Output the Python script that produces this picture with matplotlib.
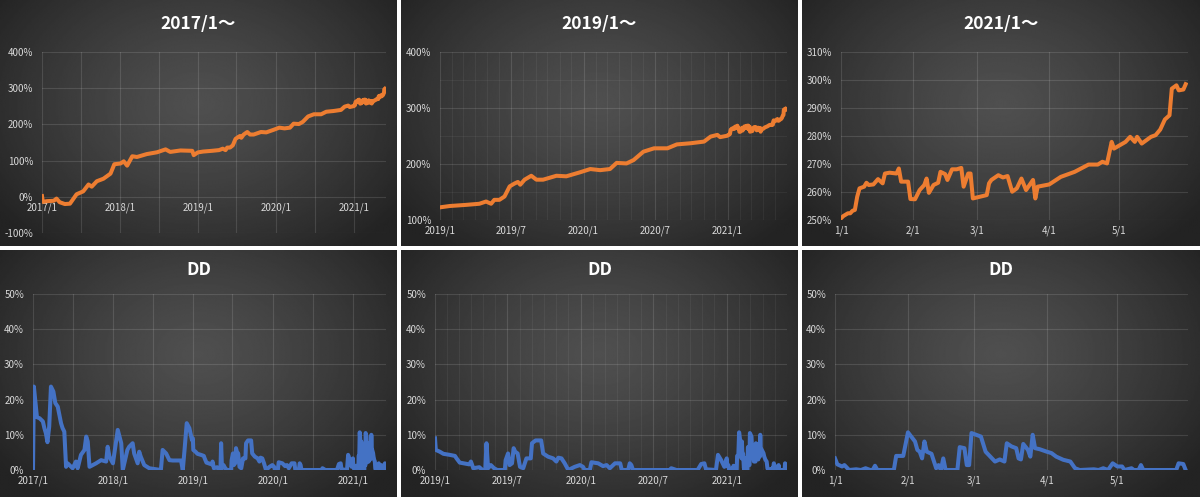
import matplotlib
matplotlib.use("Agg")
import matplotlib.pyplot as plt
import matplotlib.dates as mdates
from matplotlib.ticker import MultipleLocator, FuncFormatter
import numpy as np
import pandas as pd

plt.rcParams['font.family'] = ['Noto Sans CJK JP', 'DejaVu Sans']

# cumulative return (%)
ret_dates = [
    '2017-01-01', '2017-01-05', '2017-01-24', '2017-02-25', '2017-03-10', '2017-03-25',
    '2017-04-18', '2017-05-12', '2017-06-12', '2017-07-13', '2017-08-07', '2017-08-22',
    '2017-09-15', '2017-10-16', '2017-11-18', '2017-12-06', '2018-01-04', '2018-01-19',
    '2018-02-04', '2018-02-28', '2018-03-22', '2018-05-07', '2018-06-24', '2018-08-03',
    '2018-08-25', '2018-10-12', '2018-12-06', '2018-12-13',
    '2019-01-01', '2019-01-26', '2019-03-08', '2019-04-11', '2019-04-28', '2019-05-11',
    '2019-05-19', '2019-06-01', '2019-06-14', '2019-06-27', '2019-07-09', '2019-07-18',
    '2019-07-24', '2019-08-04', '2019-08-21', '2019-09-03', '2019-09-20', '2019-10-24',
    '2019-11-18', '2019-12-22', '2020-01-18', '2020-02-12', '2020-03-08', '2020-03-25',
    '2020-04-19', '2020-05-07', '2020-06-01', '2020-06-28', '2020-08-01', '2020-08-25',
    '2020-09-28', '2020-11-02', '2020-11-19', '2020-12-06', '2020-12-13',
    '2021-01-01', '2021-01-02', '2021-01-04', '2021-01-05', '2021-01-06', '2021-01-07',
    '2021-01-08', '2021-01-09', '2021-01-11', '2021-01-12', '2021-01-13', '2021-01-15',
    '2021-01-17', '2021-01-19', '2021-01-20', '2021-01-22', '2021-01-25', '2021-01-26',
    '2021-01-27', '2021-01-30', '2021-01-31', '2021-02-02', '2021-02-04', '2021-02-06',
    '2021-02-07', '2021-02-08', '2021-02-10', '2021-02-12', '2021-02-13', '2021-02-15',
    '2021-02-16', '2021-02-18', '2021-02-20', '2021-02-22', '2021-02-23', '2021-02-25',
    '2021-02-26', '2021-02-27', '2021-03-02', '2021-03-05', '2021-03-06', '2021-03-07',
    '2021-03-10', '2021-03-12', '2021-03-14', '2021-03-16', '2021-03-18', '2021-03-20',
    '2021-03-22', '2021-03-25', '2021-03-26', '2021-03-27', '2021-04-01', '2021-04-06',
    '2021-04-12', '2021-04-18', '2021-04-22', '2021-04-24', '2021-04-26', '2021-04-28',
    '2021-04-29', '2021-05-04', '2021-05-06', '2021-05-08', '2021-05-09', '2021-05-11',
    '2021-05-15', '2021-05-17', '2021-05-19', '2021-05-21', '2021-05-23', '2021-05-24',
    '2021-05-26', '2021-05-27', '2021-05-29', '2021-05-30',
]
ret_vals = [
    2, -14, -12, -11, -5, -15,
    -20, -19, 7, 15, 34, 28,
    43, 50, 64, 90, 92, 98,
    86, 112, 110, 118, 123, 131,
    124, 128, 127, 115,
    122.6, 125, 127, 129, 133, 129,
    136, 136, 142, 160, 165, 168,
    163, 172, 179, 172, 172, 179,
    178, 185, 191, 189, 191, 202,
    201, 207, 222, 228, 228, 235,
    237, 240, 249, 252, 248,
    250.6, 251.4, 252.4, 252.4, 253.3, 253.6,
    258.3, 261.3, 261.9, 263.3, 262.5, 262.7,
    264.6, 263.1, 266.6, 266.9, 266.6, 268.4,
    263.7, 263.7, 257.5, 257.4, 260.7, 262.5,
    264.8, 259.7, 262.5, 263.3, 267.2, 266.4,
    264.3, 268.1, 268.1, 268.6, 261.9, 266.6,
    266.6, 257.7, 258.3, 258.9, 263.1, 264.3,
    266.0, 265.2, 265.7, 260.1, 261.3, 264.8,
    260.7, 264.3, 257.7, 261.9, 262.7, 265.4,
    267.2, 269.8, 269.8, 270.8, 270.2, 277.9,
    275.5, 277.9, 279.7, 277.9, 279.7, 277.3,
    279.7, 280.3, 282.3, 285.9, 287.4, 296.9,
    298.1, 296.3, 296.6, 298.5,
]

# drawdown (%)
dd_dates = [
    '2017-01-01', '2017-01-05', '2017-01-11', '2017-01-19', '2017-01-31', '2017-02-15',
    '2017-02-22', '2017-03-01', '2017-03-08', '2017-03-16', '2017-03-24', '2017-04-04',
    '2017-04-13', '2017-04-24', '2017-05-09', '2017-05-16', '2017-05-24', '2017-06-01',
    '2017-06-08', '2017-07-01', '2017-07-16', '2017-07-24', '2017-08-08', '2017-08-24',
    '2017-09-01', '2017-09-08', '2017-09-16', '2017-10-16', '2017-11-08', '2017-12-01',
    '2017-12-08', '2017-12-16', '2018-01-01', '2018-01-23', '2018-02-08', '2018-02-15',
    '2018-03-01', '2018-03-08', '2018-03-16', '2018-04-01', '2018-04-08', '2018-04-24',
    '2018-05-01', '2018-05-08', '2018-05-24', '2018-06-16', '2018-07-16', '2018-08-08',
    '2018-08-16', '2018-09-01', '2018-09-16', '2018-10-01', '2018-11-08', '2018-11-16',
    '2018-11-24', '2018-12-04', '2018-12-16', '2018-12-28',
    '2019-01-01', '2019-01-03', '2019-01-13', '2019-01-22', '2019-02-07', '2019-02-20',
    '2019-02-24', '2019-03-04', '2019-03-28', '2019-04-01', '2019-04-07', '2019-04-22',
    '2019-04-30', '2019-05-07', '2019-05-10', '2019-05-14', '2019-05-21', '2019-05-29',
    '2019-06-06', '2019-06-25', '2019-06-27', '2019-07-03', '2019-07-07', '2019-07-13',
    '2019-07-17', '2019-07-21', '2019-07-27', '2019-08-02', '2019-08-10', '2019-08-18',
    '2019-08-29', '2019-09-01', '2019-09-10', '2019-09-24', '2019-09-29', '2019-10-11',
    '2019-10-24', '2019-11-01', '2019-11-06', '2019-11-14', '2019-11-22', '2019-12-01',
    '2019-12-17', '2019-12-30', '2020-01-07', '2020-01-11', '2020-01-24', '2020-01-28',
    '2020-02-14', '2020-02-26', '2020-03-06', '2020-03-14', '2020-03-27', '2020-04-09',
    '2020-04-13', '2020-04-29', '2020-05-03', '2020-05-07', '2020-05-11', '2020-08-11',
    '2020-08-15', '2020-08-28', '2020-10-20', '2020-10-29', '2020-11-06', '2020-11-10',
    '2020-12-05', '2020-12-10', '2020-12-18', '2020-12-26',
    '2021-01-01', '2021-01-02', '2021-01-04', '2021-01-05', '2021-01-07', '2021-01-10',
    '2021-01-12', '2021-01-14', '2021-01-16', '2021-01-17', '2021-01-18', '2021-01-19',
    '2021-01-26', '2021-01-27', '2021-01-30', '2021-02-01', '2021-02-04', '2021-02-05',
    '2021-02-06', '2021-02-07', '2021-02-08', '2021-02-09', '2021-02-11', '2021-02-13',
    '2021-02-14', '2021-02-15', '2021-02-16', '2021-02-17', '2021-02-22', '2021-02-23',
    '2021-02-25', '2021-02-26', '2021-02-27', '2021-02-28', '2021-03-02', '2021-03-04',
    '2021-03-06', '2021-03-08', '2021-03-10', '2021-03-12', '2021-03-14', '2021-03-15',
    '2021-03-17', '2021-03-19', '2021-03-20', '2021-03-21', '2021-03-22', '2021-03-24',
    '2021-03-25', '2021-03-26', '2021-03-27', '2021-03-29', '2021-04-01', '2021-04-03',
    '2021-04-05', '2021-04-08', '2021-04-11', '2021-04-13', '2021-04-15', '2021-04-21',
    '2021-04-23', '2021-04-25', '2021-04-27', '2021-04-29', '2021-05-01', '2021-05-03',
    '2021-05-04', '2021-05-07', '2021-05-08', '2021-05-10', '2021-05-11', '2021-05-12',
    '2021-05-26', '2021-05-27', '2021-05-29', '2021-05-30',
]
dd_vals = [
    0, 23.7, 20, 15, 14.7, 13.8,
    11.9, 10.4, 7.9, 12.3, 23.7, 22.3,
    19, 18, 13.3, 11.9, 10.9, 0.9,
    1.9, 0.5, 2.4, 0.5, 4.3, 5.7,
    9.5, 8.1, 0.9, 1.9, 2.8, 2.4,
    6.6, 3.8, 1.9, 11.4, 7.6, 0,
    3.8, 5.7, 6.6, 7.6, 4.7, 1.9,
    5.2, 3.8, 1.4, 0.5, 0.2, 0,
    5.7, 4.7, 2.8, 2.7, 2.7, 0,
    5.7, 13.3, 11.9, 8.5,
    9.0, 5.7, 5.2, 4.6, 4.3, 4.0,
    3.3, 2.1, 1.6, 2.4, 0.5, 0.8,
    0, 0, 7.6, 0.5, 1.4, 0.5,
    0, 0, 2.8, 4.7, 1.4, 1.9,
    6.2, 5.2, 4.7, 0.9, 0.5, 3.3,
    3.3, 7.6, 8.4, 8.4, 4.7, 3.8,
    3.3, 2.4, 3.5, 3.3, 1.9, 0,
    0.9, 1.4, 0.9, 0, 0, 2.2,
    1.9, 1.1, 1.4, 0.5, 1.9, 1.9,
    0, 0, 1.9, 1.4, 0, 0,
    0.5, 0, 0, 1.7, 1.9, 0.2,
    0, 4.3, 2.8, 0.9,
    3.3, 1.6, 1.0, 1.4, 0, 0.2,
    0, 0.5, 0, 0, 1.2, 0,
    0, 4.0, 4.0, 10.7, 8.1, 5.7,
    5.2, 3.3, 8.1, 5.2, 4.6, 0.5,
    1.4, 0, 3.3, 0, 0, 6.5,
    6.2, 1.4, 1.4, 10.5, 10.0, 9.5,
    5.2, 3.8, 2.4, 3.0, 2.4, 7.6,
    6.7, 6.2, 3.3, 3.0, 7.4, 5.7,
    3.8, 10.0, 6.2, 5.9, 5.2, 4.8,
    3.8, 2.9, 2.4, 0.5, 0, 0.2,
    0, 0.5, 0, 1.9, 1.0, 1.0,
    0, 0.5, 0, 0, 1.4, 0,
    0, 1.9, 1.7, 0,
]

titles = ['2017/1〜', '2019/1〜', '2021/1〜']
period_start = ['2017-01-01', '2019-01-01', '2021-01-01']
period_end = ['2021-06-01', '2021-06-01', '2021-05-31']

ret = pd.Series(ret_vals, index=pd.to_datetime(ret_dates))
dd = pd.Series(dd_vals, index=pd.to_datetime(dd_dates))

W, H = 1200, 497
fig = plt.figure(figsize=(W / 100, H / 100), dpi=100, facecolor='white')


def px(x0, y0, w, h):
    return [x0 / W, 1 - (y0 + h) / H, w / W, h / H]


# radial gradient used as the chart-area background
gy, gx = np.mgrid[0:1:200j, 0:1:300j]
r = np.sqrt(((gx - 0.5) / 0.62) ** 2 + ((gy - 0.42) / 0.75) ** 2)
r = np.clip(r, 0, 1)
grad = 0.31 - (0.31 - 0.14) * r ** 1.3

panels = [(0, 0, 397, 246), (401, 0, 397, 246), (802, 0, 398, 246),
          (0, 250, 397, 247), (401, 250, 397, 247), (802, 250, 398, 247)]
plots = [(42, 52, 344, 181), (440, 52, 347, 168), (841, 52, 347, 168),
         (33, 294, 353, 176), (435, 294, 352, 176), (835, 294, 353, 176)]

label_col = '#d9d9d9'
major_a = 0.12
minor_a = 0.05

for i in range(6):
    bg = fig.add_axes(px(*panels[i]))
    bg.imshow(grad, cmap='gray', vmin=0, vmax=1, aspect='auto',
              extent=[0, 1, 0, 1], interpolation='bilinear')
    bg.set_axis_off()
    col = i % 3
    top = i < 3
    bg.text(0.5, 1 - (24 if top else 20) / panels[i][3],
            titles[col] if top else 'DD', transform=bg.transAxes,
            ha='center', va='center', color='white', fontsize=12.5,
            fontweight='bold')

    ax = fig.add_axes(px(*plots[i]))
    ax.set_facecolor('none')
    t0, t1 = pd.Timestamp(period_start[col]), pd.Timestamp(period_end[col])
    s = (ret if top else dd)
    s = s[(s.index >= t0) & (s.index <= t1)]
    ax.plot(s.index, s.values, color='#ED7D31' if top else '#4472C4',
            lw=2.9, solid_joinstyle='round', zorder=3)
    ax.set_xlim(t0, t1)

    if top:
        if col == 0:
            ax.set_ylim(-100, 400)
            ax.yaxis.set_major_locator(MultipleLocator(100))
        elif col == 1:
            ax.set_ylim(100, 400)
            ax.yaxis.set_major_locator(MultipleLocator(100))
            ax.yaxis.set_minor_locator(MultipleLocator(50))
        else:
            ax.set_ylim(250, 310)
            ax.yaxis.set_major_locator(MultipleLocator(10))
    else:
        ax.set_ylim(0, 50)
        ax.yaxis.set_major_locator(MultipleLocator(10))
    ax.yaxis.set_major_formatter(FuncFormatter(lambda v, p: f'{v:.0f}%'))

    if col == 0:
        ax.xaxis.set_major_locator(mdates.MonthLocator(bymonth=[1]))
        ax.xaxis.set_minor_locator(mdates.MonthLocator(bymonth=[7]))
        ax.xaxis.set_major_formatter(
            FuncFormatter(lambda v, p: f'{mdates.num2date(v).year}/{mdates.num2date(v).month}'))
        minor_x = major_a
    elif col == 1:
        ax.xaxis.set_major_locator(mdates.MonthLocator(bymonth=[1, 7]))
        ax.xaxis.set_minor_locator(mdates.MonthLocator())
        ax.xaxis.set_major_formatter(
            FuncFormatter(lambda v, p: f'{mdates.num2date(v).year}/{mdates.num2date(v).month}'))
        minor_x = minor_a
    else:
        ax.xaxis.set_major_locator(mdates.MonthLocator())
        ax.xaxis.set_major_formatter(
            FuncFormatter(lambda v, p: f'{mdates.num2date(v).month}/{mdates.num2date(v).day}'))
        minor_x = minor_a

    ax.grid(True, which='major', color='white', alpha=major_a, lw=0.8, zorder=0)
    ax.grid(True, which='minor', axis='x', color='white', alpha=minor_x, lw=0.8, zorder=0)
    if col == 1 and top:
        ax.grid(True, which='minor', axis='y', color='white', alpha=minor_a, lw=0.8, zorder=0)

    for sp in ax.spines.values():
        sp.set_visible(False)
    if top and col == 0:
        ax.spines['bottom'].set_position(('data', 0))
    ax.tick_params(which='both', length=0, colors=label_col, labelsize=7)
    ax.tick_params(axis='x', pad=4)
    ax.tick_params(axis='y', pad=6.5)

fig.savefig('out.png', dpi=100, facecolor='white')
